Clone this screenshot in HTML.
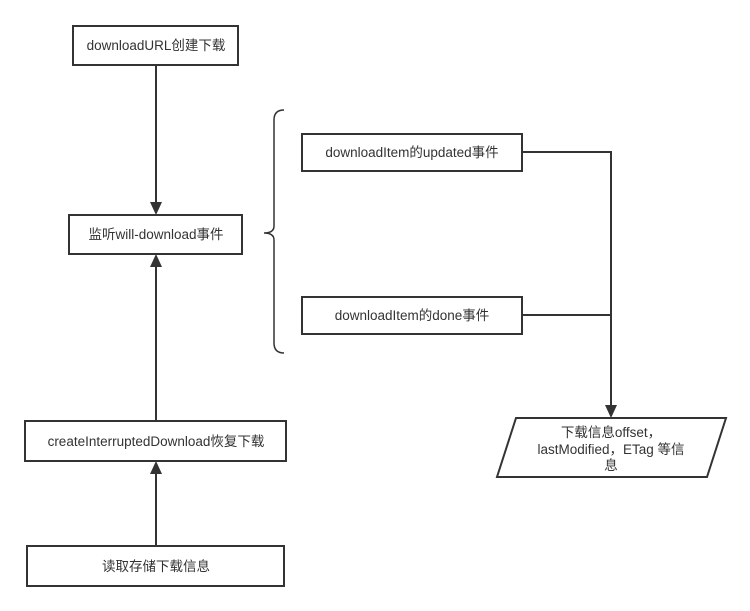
<!DOCTYPE html>
<html><head><meta charset="utf-8"><style>
html,body{margin:0;padding:0;background:#fff;}
svg{display:block;}
text{font-family:"Liberation Sans","Noto Sans CJK SC",sans-serif;font-size:13.5px;fill:#333;}
</style></head><body>
<svg width="750" height="611" viewBox="0 0 750 611" xmlns="http://www.w3.org/2000/svg">
<g fill="#fff" stroke="#333" stroke-width="2">
<rect x="73" y="26" width="165" height="39"/>
<rect x="69" y="215" width="173" height="39"/>
<rect x="25" y="421" width="261" height="40"/>
<rect x="27" y="546" width="257" height="40"/>
<rect x="302" y="134" width="220" height="37"/>
<rect x="302" y="297" width="220" height="37"/>
<polygon points="516,418 726,418 707,477 497,477"/>
</g>
<g fill="none" stroke="#333" stroke-width="2">
<line x1="156" y1="65" x2="156" y2="202"/>
<line x1="156" y1="421" x2="156" y2="267"/>
<line x1="156" y1="546" x2="156" y2="474"/>
<polyline points="522,152 611,152 611,405"/>
<line x1="522" y1="315" x2="611" y2="315"/>
<path d="M284,110 Q274,110 274,120 L274,226 Q274,233 264,233 Q274,233 274,240 L274,343 Q274,353 284,353" stroke-width="1.5"/>
</g>
<g fill="#333">
<polygon points="150,202 162,202 156,215"/>
<polygon points="150,267 162,267 156,254"/>
<polygon points="150,474 162,474 156,461"/>
<polygon points="605,405 617,405 611,418"/>
</g>
<g text-anchor="middle">
<text x="156" y="50">downloadURL创建下载</text>
<text x="156" y="239">监听will-download事件</text>
<text x="156" y="446">createInterruptedDownload恢复下载</text>
<text x="156" y="571">读取存储下载信息</text>
<text x="412" y="157">downloadItem的updated事件</text>
<text x="412" y="320">downloadItem的done事件</text>
<text x="611" y="437">下载信息offset，</text>
<text x="611" y="454">lastModified，ETag 等信</text>
<text x="611" y="470">息</text>
</g>
</svg>
</body></html>
